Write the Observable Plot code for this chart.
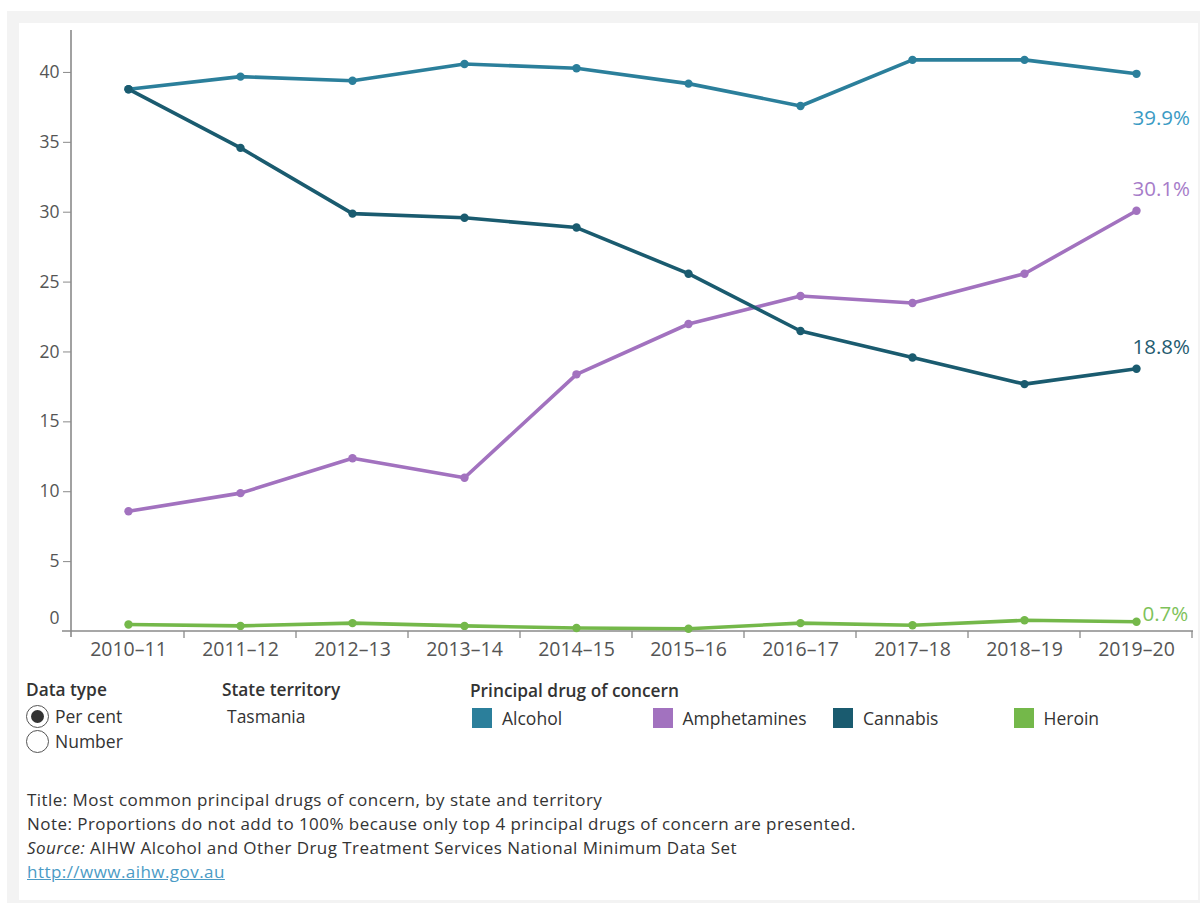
<!DOCTYPE html>
<html>
<head>
<meta charset="utf-8">
<script src="https://cdn.jsdelivr.net/npm/d3@7"></script>
<script src="https://cdn.jsdelivr.net/npm/@observablehq/plot@0.6"></script>
<style>
  html, body { margin: 0; padding: 0; background: #fff; }
  body { width: 1200px; height: 903px; position: relative; overflow: hidden; font-family: "Open Sans", sans-serif; color: #333; }
  #frame { position: absolute; left: 7px; top: 11px; width: 1193px; height: 892px; background: #f3f3f3; }
  #panel { position: absolute; left: 19px; top: 23px; width: 1179px; height: 877px; background: #fff; }
  #chart { position: absolute; left: 19px; top: 23px; }
  .abs { position: absolute; white-space: nowrap; line-height: 24px; }
  .head { font-weight: 600; font-size: 17.3px; color: #333; }
  .item { font-size: 17.5px; color: #333; }
  .radio { position: absolute; width: 21px; height: 21px; border: 1.3px solid #555; border-radius: 50%; background: #fff; box-sizing: content-box; }
  .radio.on::after { content: ""; position: absolute; left: 4px; top: 4px; width: 13px; height: 13px; border-radius: 50%; background: #333; }
  .swatch { position: absolute; width: 20px; height: 20px; }
  .foot { font-size: 17px; letter-spacing: 0.45px; color: #333; left: 27px; }
  .foot a { color: #4b9bc5; text-decoration: underline; }
</style>
</head>
<body>
<div id="frame"></div>
<div id="panel"></div>
<div id="chart"></div>
<div id="legend"></div>
<div id="footer"></div>
<script>
// ---- Data ----
const years = ["2010–11", "2011–12", "2012–13", "2013–14", "2014–15", "2015–16", "2016–17", "2017–18", "2018–19", "2019–20"];
const drugs = ["Alcohol", "Amphetamines", "Cannabis", "Heroin"];
const alcohol      = [38.8, 39.7, 39.4, 40.6, 40.3, 39.2, 37.6, 40.9, 40.9, 39.9];
const amphetamines = [8.6, 9.9, 12.4, 11.0, 18.4, 22.0, 24.0, 23.5, 25.6, 30.1];
const cannabis     = [38.8, 34.6, 29.9, 29.6, 28.9, 25.6, 21.5, 19.6, 17.7, 18.8];
const heroin       = [0.5, 0.4, 0.6, 0.4, 0.25, 0.2, 0.6, 0.45, 0.8, 0.7];
const yTicks = [0, 5, 10, 15, 20, 25, 30, 35, 40];
const dataTypes = ["Per cent", "Number"];
const stateName = "Tasmania";
const footLines = [
  "Title: Most common principal drugs of concern, by state and territory",
  "Note: Proportions do not add to 100% because only top 4 principal drugs of concern are presented."
];
const sourceText = "AIHW Alcohol and Other Drug Treatment Services National Minimum Data Set";
const linkText = "http://www.aihw.gov.au";

// ---- Styles ----
const lineColors  = ["#2b7f9b", "#a272bf", "#1a5b6f", "#74b84a"];
const labelColors = ["#3b9bc4", "#a67cc9", "#1f5c70", "#7ec25a"];
const labelStyle = {
  Alcohol:      {dx: -4, dy: 45, textAnchor: "start"},
  Amphetamines: {dx: -4, dy: -21, textAnchor: "start"},
  Cannabis:     {dx: -4, dy: -21, textAnchor: "start"},
  Heroin:       {dx: 6,  dy: -7, textAnchor: "start"}
};

const seriesValues = {Alcohol: alcohol, Amphetamines: amphetamines, Cannabis: cannabis, Heroin: heroin};
const rows = drugs.flatMap(drug => years.map((year, i) => ({drug, year, value: seriesValues[drug][i]})));
const lastRows = drugs.map(drug => ({drug, year: years[years.length - 1], value: seriesValues[drug][years.length - 1]}));

const W = 1179, H = 640;
const font = "'Open Sans', sans-serif";

// custom mark: axis lines and tick marks at band edges
function axisFrame(index, scales, values, dims) {
  const g = d3.create("svg:g").attr("stroke", "#8a8a8a").attr("fill", "none").attr("stroke-width", 1.6);
  const x0 = dims.marginLeft, x1 = dims.width - dims.marginRight;
  const yb = dims.height - dims.marginBottom, yt = dims.marginTop;
  g.append("line").attr("x1", x0).attr("x2", x0).attr("y1", yt).attr("y2", yb + 6);
  g.append("line").attr("x1", x0 - 9).attr("x2", x1).attr("y1", yb).attr("y2", yb);
  const bw = scales.x.bandwidth ? scales.x.bandwidth() : 0;
  const edges = years.map(d => scales.x(d));
  edges.push(scales.x(years[years.length - 1]) + bw);
  for (const e of edges.slice(1)) {
    g.append("line").attr("x1", e).attr("x2", e).attr("y1", yb).attr("y2", yb + 7).attr("stroke-width", 1.3);
  }
  return g.node();
}

const plot = Plot.plot({
  width: W, height: H,
  marginLeft: 52, marginRight: 5, marginTop: 7, marginBottom: 32,
  style: {fontFamily: font, fontSize: "16px", color: "#555", background: "transparent", overflow: "visible"},
  x: {type: "band", domain: years, padding: 0},
  y: {domain: [0, 43]},
  color: {domain: drugs, range: lineColors},
  marks: [
    axisFrame,
    Plot.axisX({tickSize: 0, tickPadding: 11, fontSize: 19.5, fill: "#555", label: null}),
    Plot.axisY({ticks: yTicks.filter(t => t > 0), tickSize: 8, tickPadding: 4, stroke: "#8a8a8a", fontSize: 17.5, fill: "#555", label: null}),
    Plot.axisY({ticks: yTicks.filter(t => t === 0), tickSize: 0, tickPadding: 12, dy: -13, fontSize: 17.5, fill: "#555", label: null}),
    Plot.line(rows, {x: "year", y: "value", z: "drug", stroke: "drug", strokeWidth: 3.6}),
    Plot.dot(rows, {x: "year", y: "value", fill: "drug", r: 4.2}),
    ...drugs.map((drug, i) => Plot.text(lastRows.filter(d => d.drug === drug), {
      x: "year", y: "value", text: d => d.value.toFixed(1) + "%",
      fill: labelColors[i], fontSize: 20.5, ...labelStyle[drug]
    }))
  ]
});
document.getElementById("chart").appendChild(plot);

// ---- Legend (HTML) ----
const legend = document.getElementById("legend");
function addDiv(cls, text, left, top, extra) {
  const d = document.createElement("div");
  d.className = "abs " + cls;
  d.textContent = text;
  d.style.left = left + "px";
  d.style.top = top + "px";
  if (extra) Object.assign(d.style, extra);
  legend.appendChild(d);
  return d;
}
addDiv("head", "Data type", 26, 678);
dataTypes.forEach((t, i) => {
  const r = document.createElement("div");
  r.className = "radio" + (i === 0 ? " on" : "");
  r.style.left = "26px";
  r.style.top = (705 + i * 25) + "px";
  legend.appendChild(r);
  addDiv("item", t, 55, 704 + i * 25);
});
addDiv("head", "State territory", 222, 678);
addDiv("item", stateName, 227, 704);
addDiv("head", "Principal drug of concern", 470, 679);
drugs.forEach((dname, i) => {
  const sx = 472 + i * 180.5;
  const s = document.createElement("div");
  s.className = "swatch";
  s.style.left = sx + "px";
  s.style.top = "708px";
  s.style.background = lineColors[i];
  legend.appendChild(s);
  addDiv("item", dname, sx + 30, 706);
});

// ---- Footer ----
const footer = document.getElementById("footer");
footLines.forEach((t, i) => {
  const d = document.createElement("div");
  d.className = "abs foot";
  d.style.top = (788 + i * 24) + "px";
  d.textContent = t;
  footer.appendChild(d);
});
const src = document.createElement("div");
src.className = "abs foot";
src.style.top = (788 + 2 * 24) + "px";
src.innerHTML = "<i>Source:</i> " + sourceText;
footer.appendChild(src);
const lk = document.createElement("div");
lk.className = "abs foot";
lk.style.top = (788 + 3 * 24) + "px";
lk.innerHTML = '<a href="#">' + linkText + "</a>";
footer.appendChild(lk);
</script>
</body>
</html>
